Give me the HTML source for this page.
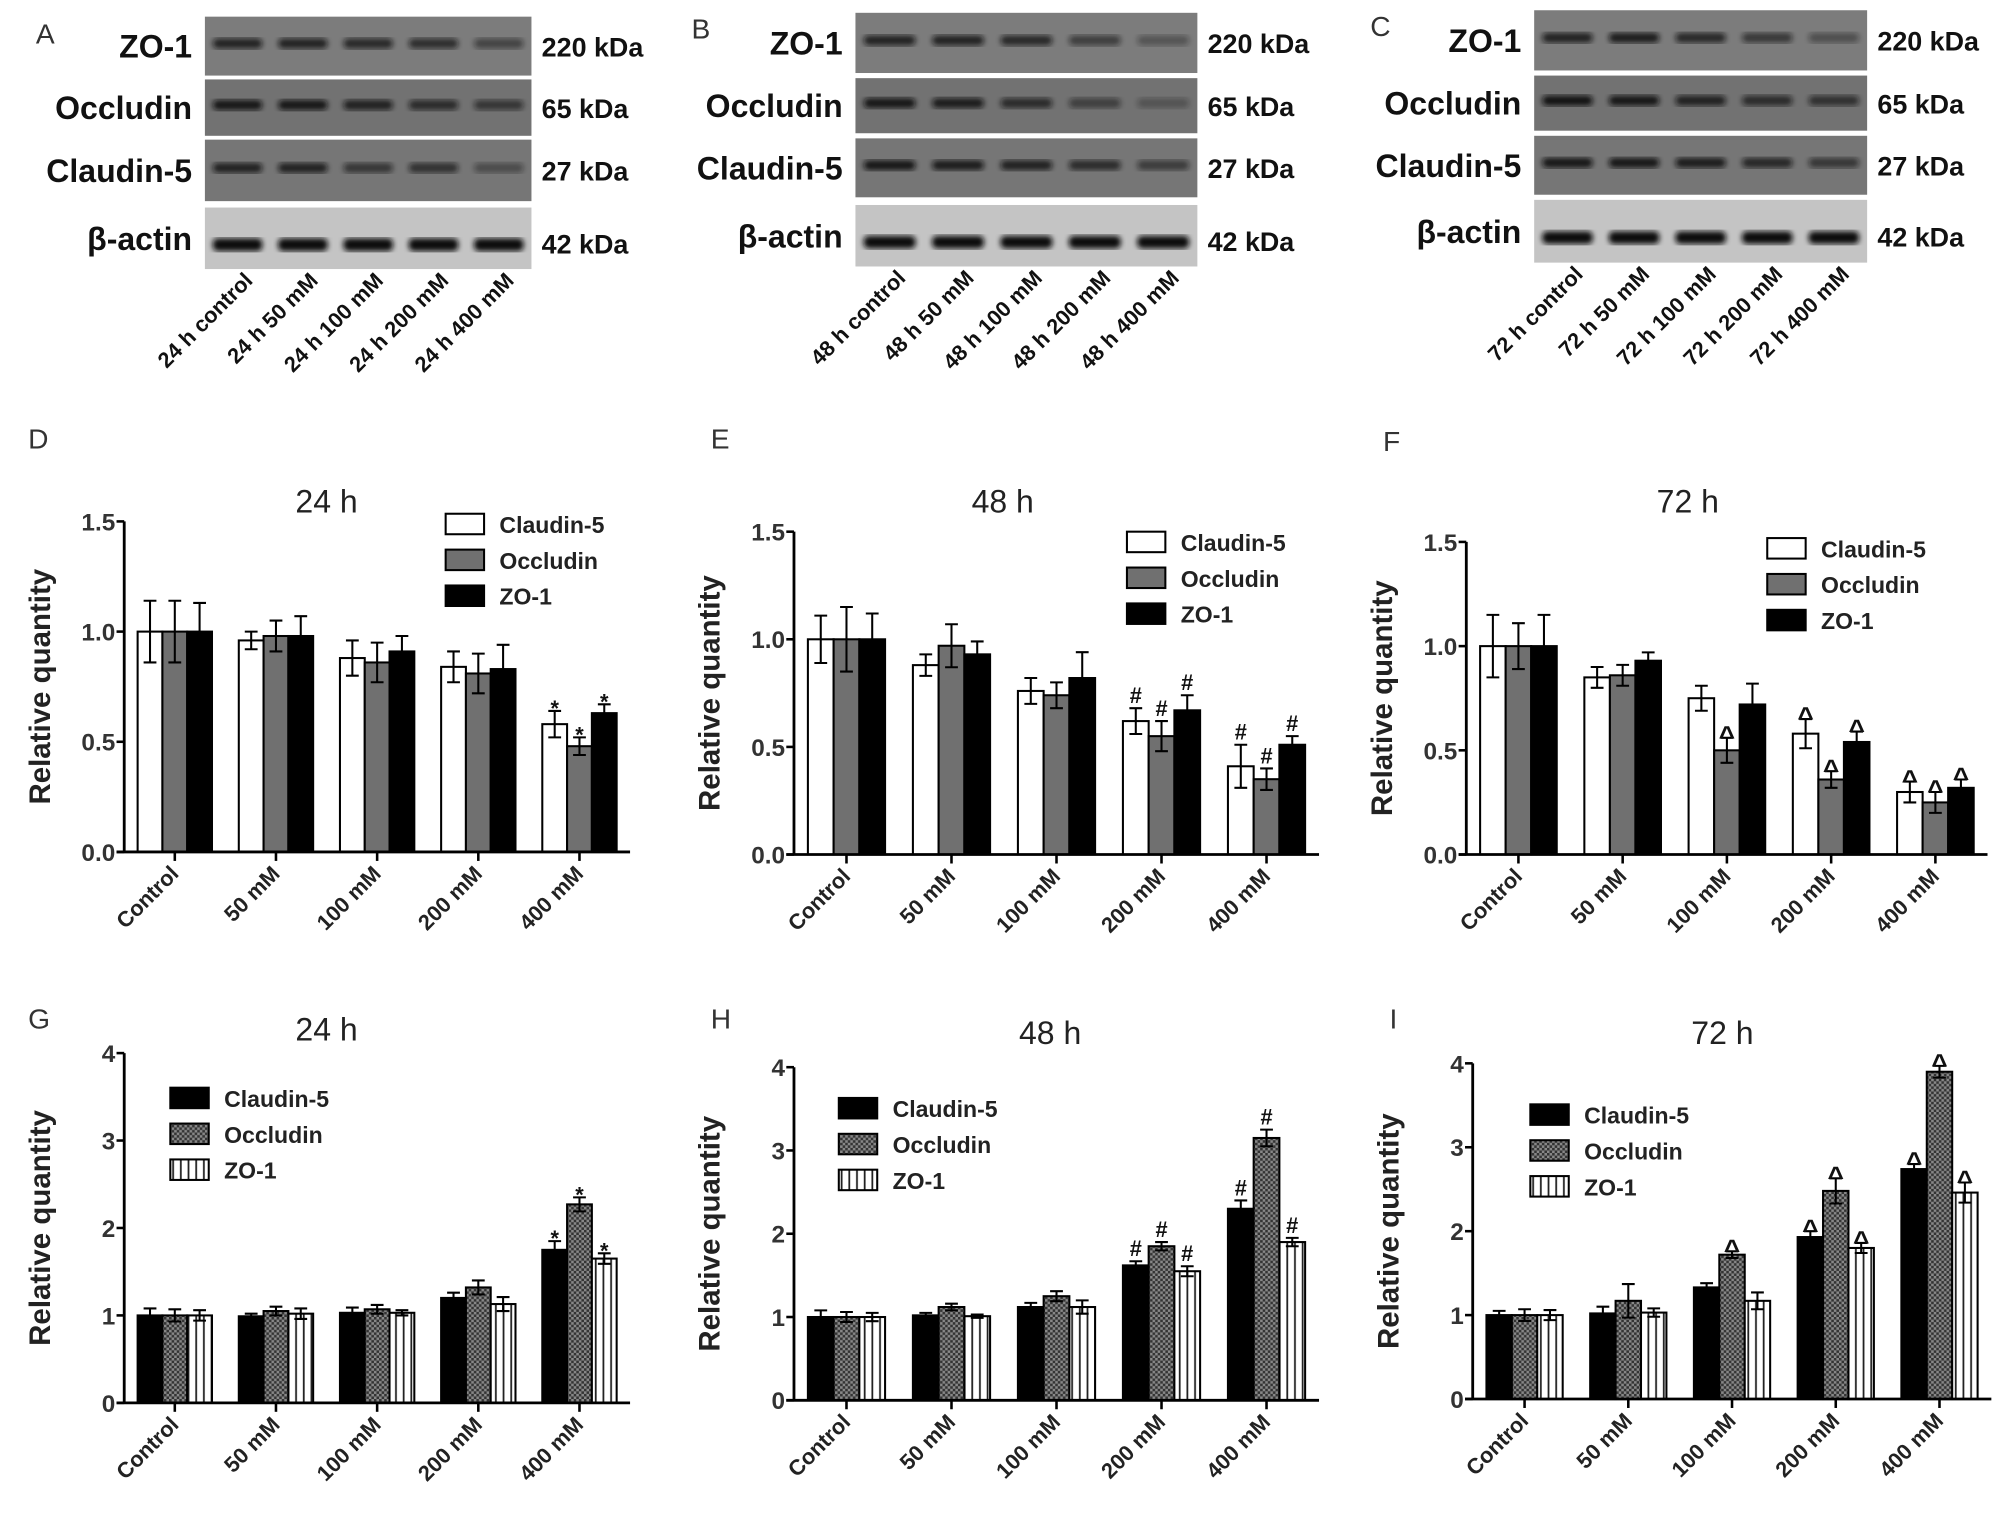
<!DOCTYPE html>
<html><head><meta charset="utf-8"><style>
html,body{margin:0;padding:0;background:#fff;}
svg{display:block;font-family:"Liberation Sans",sans-serif;}
</style></head><body>
<svg id="fig" width="2008" height="1522" viewBox="0 0 1568 1188" preserveAspectRatio="none" xmlns="http://www.w3.org/2000/svg">
<defs>
<pattern id="hatch" width="4" height="4" patternUnits="userSpaceOnUse"><rect width="4" height="4" fill="#888"/><rect width="2" height="2" fill="#333"/><rect x="2" y="2" width="2" height="2" fill="#333"/></pattern>
<pattern id="vstripe" width="6" height="6" patternUnits="userSpaceOnUse"><rect width="6" height="6" fill="#fff"/><rect x="2.5" width="1.4" height="6" fill="#222"/></pattern>
<filter id="blur"><feGaussianBlur stdDeviation="2"/></filter>
</defs>
<g id="blots"></g>
<g id="charts"></g>
</svg>
<script>
// ---------- chart data ----------
const categories = ["Control","50 mM","100 mM","200 mM","400 mM"];
const seriesNames = ["Claudin-5","Occludin","ZO-1"];
const ticksDEF = [0,0.5,1.0,1.5];
const tickLabelsDEF = ["0.0","0.5","1.0","1.5"];
const ticksGHI = [0,1,2,3,4];
const tickLabelsGHI = ["0","1","2","3","4"];
// D 24h
const dC5 = [1,0.96,0.88,0.84,0.58], dC5e = [0.14,0.04,0.08,0.07,0.06];
const dOcc = [1,0.98,0.86,0.81,0.48], dOcce = [0.14,0.07,0.09,0.09,0.04];
const dZO = [1,0.98,0.91,0.83,0.63], dZOe = [0.13,0.09,0.07,0.11,0.04];
const dMarks = [["","","","","*"],["","","","","*"],["","","","","*"]];
// E 48h
const eC5 = [1,0.88,0.76,0.62,0.41], eC5e = [0.11,0.05,0.06,0.06,0.10];
const eOcc = [1,0.97,0.74,0.55,0.35], eOcce = [0.15,0.10,0.06,0.07,0.05];
const eZO = [1,0.93,0.82,0.67,0.51], eZOe = [0.12,0.06,0.12,0.07,0.04];
const eMarks = [["","","","#","#"],["","","","#","#"],["","","","#","#"]];
// F 72h
const fC5 = [1,0.85,0.75,0.58,0.30], fC5e = [0.15,0.05,0.06,0.07,0.05];
const fOcc = [1,0.86,0.50,0.36,0.25], fOcce = [0.11,0.05,0.06,0.04,0.05];
const fZO = [1,0.93,0.72,0.54,0.32], fZOe = [0.15,0.04,0.10,0.05,0.04];
const fMarks = [["","","","^","^"],["","","^","^","^"],["","","","^","^"]];
// G 24h
const gC5 = [1,0.99,1.03,1.20,1.75], gC5e = [0.08,0.03,0.06,0.06,0.10];
const gOcc = [1,1.05,1.07,1.32,2.27], gOcce = [0.07,0.05,0.05,0.08,0.08];
const gZO = [1,1.02,1.03,1.13,1.65], gZOe = [0.06,0.06,0.03,0.08,0.06];
const gMarks = [["","","","","*"],["","","","","*"],["","","","","*"]];
// H 48h
const hC5 = [1,1.02,1.12,1.62,2.30], hC5e = [0.08,0.03,0.05,0.05,0.10];
const hOcc = [1,1.12,1.25,1.85,3.15], hOcce = [0.06,0.04,0.06,0.05,0.10];
const hZO = [1,1.01,1.12,1.55,1.90], hZOe = [0.05,0.02,0.08,0.06,0.05];
const hMarks = [["","","","#","#"],["","","","#","#"],["","","","#","#"]];
// I 72h
const iC5 = [1,1.02,1.33,1.93,2.74], iC5e = [0.05,0.08,0.05,0.07,0.06];
const iOcc = [1,1.17,1.72,2.48,3.90], iOcce = [0.07,0.20,0.04,0.15,0.07];
const iZO = [1,1.03,1.17,1.80,2.46], iZOe = [0.06,0.05,0.10,0.06,0.12];
const iMarks = [["","","","^","^"],["","","^","^","^"],["","","","^","^"]];

const NS = "http://www.w3.org/2000/svg";
function mk(tag, attrs, parent, text){
  const e = document.createElementNS(NS, tag);
  for (const k in attrs) e.setAttribute(k, attrs[k]);
  if (text !== undefined) e.textContent = text;
  parent.appendChild(e); return e;
}
const charts = document.getElementById('charts');
const blots = document.getElementById('blots');

// ---------- blots ----------
function drawBlot(cfg){
  const g = mk('g', {}, blots);
  
  
  const pl = mk('text', {x:cfg.lx, y:cfg.ly, 'font-size':22, fill:'#333'}, g, cfg.letter);
  
  
  const rows = ["ZO-1","Occludin","Claudin-5","β-actin"];
  const kda = ["220 kDa","65 kDa","27 kDa","42 kDa"];
  const fills = ["#7c7c7c","#727272","#767676","#c4c4c4"];
  const w = cfg.x1 - cfg.x0, lw = w/5;
  cfg.strips.forEach((s, r) => {
    const rect = mk('rect', {x:cfg.x0, y:s[0], width:w, height:s[1]-s[0], fill:fills[r]}, g);
    
    
    for (let l = 0; l < 5; l++){
      const inten = cfg.bands[r][l];
      const cy = (s[0]+s[1])/2 + (r===3?4:-2);
      const b = mk('rect', {x:cfg.x0+l*lw+lw*0.12, y:cy-4, width:lw*0.76, height:r===3?10:8, rx:4, fill:'#111', opacity:inten, filter:'url(#blur)'}, g);
      
      
    }
    const t = mk('text', {x:cfg.x0-10, y:(s[0]+s[1])/2+9, 'font-size':25, 'font-weight':'bold', 'text-anchor':'end', fill:'#111'}, g, rows[r]);
    
    
    const k = mk('text', {x:cfg.x1+8, y:(s[0]+s[1])/2+8 + (r===3?4:0), 'font-size':21, 'font-weight':'bold', fill:'#111'}, g, kda[r]);
    
    
  });
  const lanes = ["control","50 mM","100 mM","200 mM","400 mM"];
  lanes.forEach((ln, l) => {
    const x = cfg.x0 + l*lw + lw*0.75, y = cfg.strips[3][1] + 10;
    const t = mk('text', {x:x, y:y, 'font-size':17, 'font-weight':'bold', 'text-anchor':'end', fill:'#111', transform:`rotate(-45 ${x} ${y})`}, g, cfg.h + ' h ' + ln);
    
    
  });
}
drawBlot({letter:'A', lx:28, ly:34, x0:160, x1:415, h:'24',
  strips:[[13,59],[62,106],[109,157],[162,210]],
  bands:[[.8,.8,.75,.7,.5],[.9,.9,.8,.7,.6],[.8,.8,.6,.65,.4],[1,1,1,1,1]]});
drawBlot({letter:'B', lx:540, ly:30, x0:668, x1:935, h:'48',
  strips:[[10,57],[61,104],[108,154],[160,208]],
  bands:[[.8,.8,.75,.55,.35],[.9,.85,.7,.5,.3],[.9,.85,.8,.7,.55],[1,1,1,1,1]]});
drawBlot({letter:'C', lx:1070, ly:28, x0:1198, x1:1458, h:'72',
  strips:[[8,55],[59,102],[106,152],[156,205]],
  bands:[[.8,.85,.75,.6,.4],[.95,.9,.8,.7,.65],[.9,.9,.85,.75,.6],[1,1,1,1,1]]});

// ---------- bar charts ----------
function drawChart(cfg){
  const g = mk('g', {}, charts);
  
  
  const yS = v => cfg.y0 - (v / cfg.ymax) * (cfg.y0 - cfg.yTop);
  const gw = (cfg.xEnd - cfg.ax) / 5;
  const bw = gw * 0.245;
  const xC = i => cfg.ax + gw*(i+0.5);
  const pl = mk('text', {x:cfg.lx, y:cfg.ly, 'font-size':22, fill:'#333'}, g, cfg.letter);
  
  
  const tt = mk('text', {x:cfg.tx, y:cfg.ty, 'font-size':25, 'text-anchor':'middle', fill:'#222'}, g, cfg.title);
  
  
  cfg.series.forEach((vals, s) => {
    vals.forEach((v, i) => {
      const x = xC(i) - 1.5*bw + s*bw;
      const r = mk('rect', {x:x, y:yS(v), width:bw, height:cfg.y0 - yS(v), fill:cfg.fills[s], stroke:'#000', 'stroke-width':1.6}, g);
      
      
      const e = cfg.errs[s][i], cx = x + bw/2;
      const top = yS(v + e), bot = cfg.dark[s] ? yS(v) : yS(v - e);
      const eb = mk('path', {d:`M${cx},${bot}V${top}M${cx-5},${top}H${cx+5}` + (cfg.dark[s]?'':`M${cx-5},${yS(v-e)}H${cx+5}`), stroke:'#000', 'stroke-width':1.6, fill:'none'}, g);
      
      
      const m = cfg.marks[s][i];
      if (m){
        const fy = m==='*' ? top + 4 : (m==='^' ? top + 6 : top - 4);
        const mt = mk('text', {x:cx, y:fy, 'font-size':m==='^'?22:17, 'font-weight':'bold', 'text-anchor':'middle', fill:'#111'}, g, m);
        
        
      }
    });
  });
  const ya = mk('line', {x1:cfg.ax, y1:cfg.yTop, x2:cfg.ax, y2:cfg.y0, stroke:'#000', 'stroke-width':2.2}, g);
  
  
  const xa = mk('line', {x1:cfg.ax-6, y1:cfg.y0, x2:cfg.xEnd, y2:cfg.y0, stroke:'#000', 'stroke-width':2.2}, g);
  
  
  cfg.ticks.forEach((t, k) => {
    const y = yS(t);
    const tl = mk('line', {x1:cfg.ax-6, y1:y, x2:cfg.ax, y2:y, stroke:'#000', 'stroke-width':2}, g);
    
    
    const tx = mk('text', {x:cfg.ax-7, y:y+7, 'font-size':19, 'font-weight':'bold', 'text-anchor':'end', fill:'#333'}, g, cfg.tickLabels[k]);
    
    
  });
  categories.forEach((c, i) => {
    const x = xC(i);
    const tl = mk('line', {x1:x, y1:cfg.y0, x2:x, y2:cfg.y0+7, stroke:'#000', 'stroke-width':2}, g);
    
    
    const tx = mk('text', {x:x+4, y:cfg.y0+18, 'font-size':17, 'font-weight':'bold', 'text-anchor':'end', fill:'#222', transform:`rotate(-45 ${x+4} ${cfg.y0+18})`}, g, c);
    
    
  });
  const yl = mk('text', {x:0, y:0, 'font-size':23, 'font-weight':'bold', 'text-anchor':'middle', fill:'#222', transform:`translate(${cfg.ax-58},${(cfg.y0+cfg.yTop)/2}) rotate(-90)`}, g, 'Relative quantity');
  
  
  seriesNames.forEach((n, s) => {
    const y = cfg.legY + s*28;
    const lr = mk('rect', {x:cfg.legX, y:y-8, width:30, height:16, fill:cfg.fills[s], stroke:'#000', 'stroke-width':1.6}, g);
    
    
    const lt = mk('text', {x:cfg.legX+42, y:y+7, 'font-size':18, 'font-weight':'bold', fill:'#222'}, g, n);
    
    
  });
}
const fillsTop = ['#fff','#707070','#000'];
const fillsBot = ['#000','url(#hatch)','url(#vstripe)'];
drawChart({letter:'D', lx:22, ly:350, title:'24 h', tx:255, ty:400, ax:97, xEnd:492, y0:665, yTop:407, ymax:1.5,
  ticks:ticksDEF, tickLabels:tickLabelsDEF, series:[dC5,dOcc,dZO], errs:[dC5e,dOcce,dZOe], marks:dMarks,
  fills:fillsTop, dark:[false,false,true], legX:348, legY:409});
drawChart({letter:'E', lx:555, ly:350, title:'48 h', tx:783, ty:400, ax:620, xEnd:1030, y0:667, yTop:415, ymax:1.5,
  ticks:ticksDEF, tickLabels:tickLabelsDEF, series:[eC5,eOcc,eZO], errs:[eC5e,eOcce,eZOe], marks:eMarks,
  fills:fillsTop, dark:[false,false,true], legX:880, legY:423});
drawChart({letter:'F', lx:1080, ly:352, title:'72 h', tx:1318, ty:400, ax:1145, xEnd:1552, y0:667, yTop:423, ymax:1.5,
  ticks:ticksDEF, tickLabels:tickLabelsDEF, series:[fC5,fOcc,fZO], errs:[fC5e,fOcce,fZOe], marks:fMarks,
  fills:fillsTop, dark:[false,false,true], legX:1380, legY:428});
drawChart({letter:'G', lx:22, ly:803, title:'24 h', tx:255, ty:812, ax:97, xEnd:492, y0:1095, yTop:822, ymax:4,
  ticks:ticksGHI, tickLabels:tickLabelsGHI, series:[gC5,gOcc,gZO], errs:[gC5e,gOcce,gZOe], marks:gMarks,
  fills:fillsBot, dark:[false,false,false], legX:133, legY:857});
drawChart({letter:'H', lx:555, ly:803, title:'48 h', tx:820, ty:815, ax:620, xEnd:1030, y0:1093, yTop:833, ymax:4,
  ticks:ticksGHI, tickLabels:tickLabelsGHI, series:[hC5,hOcc,hZO], errs:[hC5e,hOcce,hZOe], marks:hMarks,
  fills:fillsBot, dark:[false,false,false], legX:655, legY:865});
drawChart({letter:'I', lx:1085, ly:803, title:'72 h', tx:1345, ty:815, ax:1150, xEnd:1555, y0:1092, yTop:830, ymax:4,
  ticks:ticksGHI, tickLabels:tickLabelsGHI, series:[iC5,iOcc,iZO], errs:[iC5e,iOcce,iZOe], marks:iMarks,
  fills:fillsBot, dark:[false,false,false], legX:1195, legY:870});
</script>
</body></html>
